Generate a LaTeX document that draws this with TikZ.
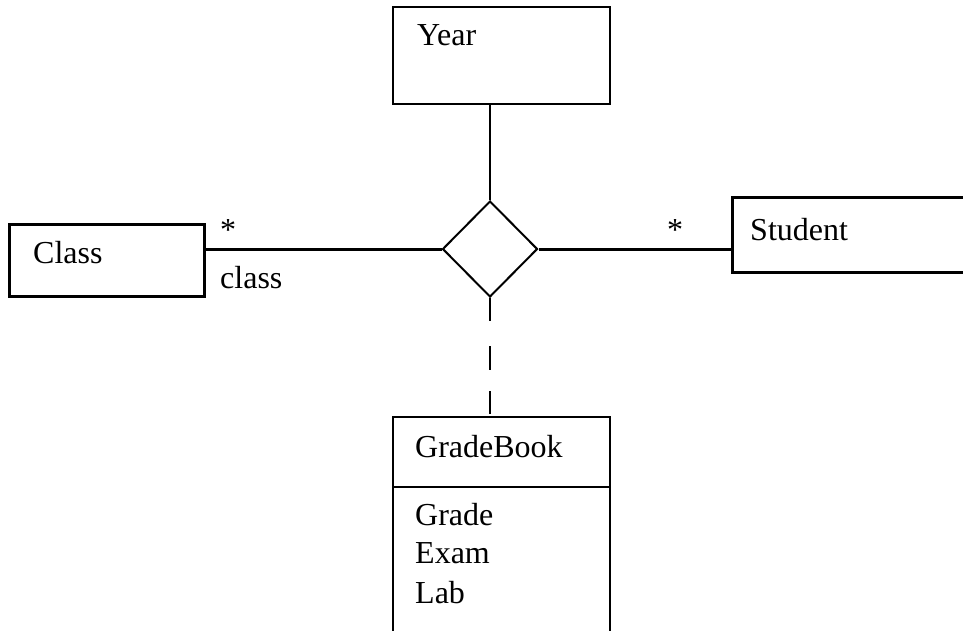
\documentclass[tikz,border=0pt]{standalone}
\usepackage{fontspec}
\setmainfont{Liberation Serif}
\usetikzlibrary{shapes.geometric,calc}
\begin{document}
\begin{tikzpicture}[x=1pt,y=-1pt,
  every node/.style={font=\fontsize{32}{37}\selectfont},
  classbox/.style={draw,rectangle,inner sep=0,line width=2pt},
  thickbox/.style={classbox,line width=3pt},
  lbl/.style={anchor=base west,inner sep=0},
  assoc/.style={line width=2pt},
  heavy/.style={line width=3pt}]
  \useasboundingbox (0,0) rectangle (963,630);
  \clip (0,0) rectangle (963,630);
  % classes
  \node[classbox,minimum width=217,minimum height=97] (year) at (501.5,55.5) {};
  \node[thickbox,minimum width=195,minimum height=72] (cls) at (107,260) {};
  \node[thickbox,minimum width=268,minimum height=75] (stu) at (866,234.5) {};
  \node[classbox,minimum width=217,minimum height=243] (gb) at (501.5,538.5) {};
  \draw[line width=1.5pt] ($(gb.north west)+(0,71)$) -- ($(gb.north east)+(0,71)$);
  % n-ary association diamond
  \node[draw,diamond,line width=2pt,inner sep=0,minimum width=95,minimum height=96] (rel) at (490,249) {};
  % labels
  \node[lbl] (tyear) at (417,45) {Year};
  \node[lbl] (tcls) at (33,263) {Class};
  \node[lbl] (tstu) at (750,240) {Student};
  \node[lbl] (tgb) at (415,457) {GradeBook};
  \node[lbl] (tgrade) at (415,525) {Grade};
  \node[lbl] (texam) at (415,563) {Exam};
  \node[lbl] (tlab) at (415,603) {Lab};
  \node[lbl] (mcls) at (220,240) {*};
  \node[lbl] (mstu) at (667,240) {*};
  \node[lbl] (rcls) at (220,288) {class};
  % connectors
  \draw[assoc] (rel.north |- year.south) -- (rel.north);
  \draw[heavy] (rel.west) -- (rel.west -| cls.east);
  \draw[heavy] (rel.east) -- (rel.east -| stu.west);
  \draw[line width=2.5pt,dash pattern=on 23pt off 25pt on 24pt off 21pt] (rel.south) -- (rel.south |- gb.north);
\end{tikzpicture}
\end{document}
